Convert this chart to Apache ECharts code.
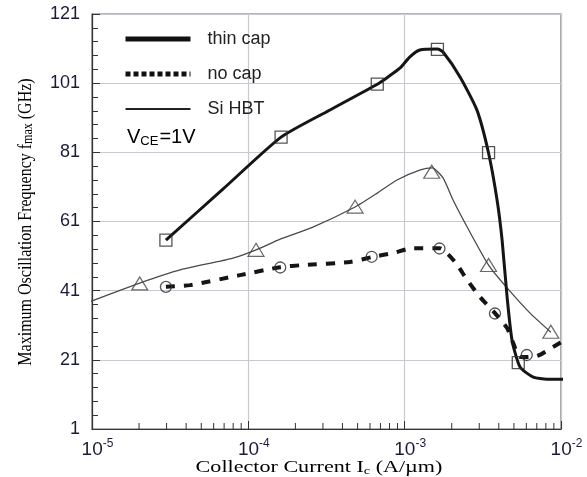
<!DOCTYPE html>
<html lang="en">
<head>
    <meta charset="UTF-8">
    <script src="https://cdn.jsdelivr.net/npm/echarts@6/dist/echarts.min.js"></script>
    <style>
        html, body { margin: 0; padding: 0; background: #fff; }
        #graph { width: 587px; height: 477px; }
    </style>
</head>
<body>
    <div id="graph"></div>
    <script>
        // curve points: [collector current (A/um), fmax (GHz)]
        const thinCapLine = [
            [2.97e-5, 55.6], [6.93e-5, 70.5], [1.62e-4, 85.4], [3.28e-4, 93.1],
            [6.68e-4, 100.7], [7.83e-4, 102.8],
            [9.35e-4, 105.4], [1.08e-3, 108.6], [1.25e-3, 110.6],
            [1.62e-3, 110.9], [1.76e-3, 110.0], [2.26e-3, 102.8], [2.90e-3, 93.2],
            [3.44e-3, 80.8], [3.90e-3, 67.2], [4.20e-3, 55.6], [4.52e-3, 39.2],
            [4.86e-3, 26.7], [5.47e-3, 18.9], [6.64e-3, 16.0], [8.15e-3, 15.4],
            [1.11e-2, 15.4]
        ];
        const noCapLine = [
            [2.97e-5, 42.1], [4.24e-5, 42.6], [8.85e-5, 45.5], [1.60e-4, 47.8],
            [2.24e-4, 48.4], [4.48e-4, 49.3], [6.15e-4, 50.7], [8.43e-4, 51.9],
            [1.13e-3, 53.3], [1.67e-3, 53.3], [2.10e-3, 49.3], [2.51e-3, 44.1],
            [3.03e-3, 39.2], [3.78e-3, 34.5], [4.52e-3, 30.2], [4.94e-3, 25.9],
            [5.47e-3, 21.8], [7.03e-3, 22.1], [8.89e-3, 24.7], [1.11e-2, 27.3]
        ];
        const siHbtLine = [
            [9.15e-6, 37.4], [2.02e-5, 43.2], [3.66e-5, 47.0], [7.98e-5, 50.4],
            [1.12e-4, 52.8], [1.60e-4, 55.9], [2.59e-4, 59.4], [4.82e-4, 65.2],
            [6.68e-4, 69.2], [8.93e-4, 73.0], [1.26e-3, 75.9], [1.50e-3, 76.5],
            [1.76e-3, 73.6], [2.04e-3, 67.2], [2.51e-3, 59.4], [3.44e-3, 48.4],
            [4.52e-3, 41.8], [6.34e-3, 34.5], [8.61e-3, 29.0]
        ];

        // measured points (markers)
        const thinCapPts = [[2.97e-5, 55.6], [1.62e-4, 85.4], [6.68e-4, 100.7], [1.62e-3, 110.8], [3.44e-3, 80.9], [5.33e-3, 20.2]];
        const noCapPts = [[2.97e-5, 42.1], [1.60e-4, 47.7], [6.15e-4, 50.8], [1.67e-3, 53.2], [3.78e-3, 34.4], [6.04e-3, 22.4]];
        const siHbtPts = [[2.02e-5, 43.1], [1.12e-4, 52.8], [4.82e-4, 65.3], [1.49e-3, 75.4], [3.44e-3, 48.4], [8.61e-3, 29.1]];

        const xMinorTicks = [
            2e-5, 3e-5, 4e-5, 5e-5, 6e-5, 7e-5, 8e-5, 9e-5,
            2e-4, 3e-4, 4e-4, 5e-4, 6e-4, 7e-4, 8e-4, 9e-4,
            2e-3, 3e-3, 4e-3, 5e-3, 6e-3, 7e-3, 8e-3, 9e-3
        ];

        const serif = '"Liberation Serif", "DejaVu Serif", serif';
        const sans = '"Liberation Sans", Arial, sans-serif';
        const ink = '#1c1c3a';

        const myChart = echarts.init(document.getElementById('graph'));

        const option = {
            animation: false,
            backgroundColor: '#fff',
            grid: {
                left: 92, right: 26, top: 14, bottom: 48,
                show: true, borderColor: '#6a6a6a', borderWidth: 1.2
            },
            legend: {
                left: 118, top: 25, orient: 'vertical',
                itemWidth: 65, itemHeight: 14, itemGap: 17,
                textStyle: { fontFamily: sans, fontSize: 18, color: '#222', padding: [0, 0, 0, 12] },
                data: [
                    { name: 'thin cap', itemStyle: { opacity: 0 }, lineStyle: { width: 5, color: '#111' } },
                    { name: 'no cap', itemStyle: { opacity: 0 }, lineStyle: { width: 5, color: '#111', type: [5, 3] } },
                    { name: 'Si HBT', itemStyle: { opacity: 0 }, lineStyle: { width: 2, color: '#222' } }
                ]
            },
            xAxis: {
                type: 'log', logBase: 10, min: 1e-5, max: 1e-2,
                axisLine: { lineStyle: { color: '#333', width: 1.2 } },
                axisTick: { inside: true, length: 8, lineStyle: { color: '#333' } },
                splitLine: { show: true, lineStyle: { color: '#c9c9d2', width: 1.2 } },
                axisLabel: {
                    margin: 9,
                    padding: [0, 0, 0, 11],
                    formatter: v => '{b|10}{s|' + Math.round(Math.log10(v)) + '}',
                    rich: {
                        b: { fontFamily: sans, fontSize: 19, color: ink },
                        s: { fontFamily: sans, fontSize: 12, color: ink, padding: [0, 0, 11, 0] }
                    }
                }
            },
            yAxis: {
                type: 'value', min: 1, max: 121, interval: 20,
                axisLine: { show: true, lineStyle: { color: '#333', width: 1.2 } },
                axisTick: { show: true, inside: true, length: 8, lineStyle: { color: '#333' } },
                minorTick: { show: true, splitNumber: 5, length: 6, lineStyle: { color: '#333' } },
                splitLine: { show: true, lineStyle: { color: '#c9c9d2', width: 1.2 } },
                axisLabel: { margin: 12, fontFamily: sans, fontSize: 18, color: ink }
            },
            graphic: [
                {
                    type: 'text', x: 26, y: 222, rotation: Math.PI / 2, scaleY: 1.15,
                    style: {
                        text: '{n|Maximum Oscillation Frequency f}{s|max}{n| (GHz)}',
                        align: 'center', verticalAlign: 'middle',
                        rich: {
                            n: { fontFamily: serif, fontSize: 16, color: ink },
                            s: { fontFamily: serif, fontSize: 12, color: ink, padding: [4, 0, 0, 0] }
                        }
                    }
                },
                {
                    type: 'text', x: 319, y: 468, scaleX: 1.3,
                    style: {
                        text: '{n|Collector Current I}{s|c}{n| (A/\u00b5m)}',
                        align: 'center', verticalAlign: 'middle',
                        rich: {
                            n: { fontFamily: serif, fontSize: 17, color: ink },
                            s: { fontFamily: serif, fontSize: 11, color: ink, padding: [6, 0, 0, 0] }
                        }
                    }
                },
                {
                    type: 'text', x: 127, y: 137,
                    style: {
                        text: '{v|V}{s|CE}{v|=1V}',
                        verticalAlign: 'middle',
                        rich: {
                            v: { fontFamily: sans, fontSize: 20, color: '#222' },
                            s: { fontFamily: sans, fontSize: 13, color: '#222', padding: [9, 1, 0, 0] }
                        }
                    }
                }
            ],
            series: [
                {
                    name: 'thin cap', type: 'line', data: thinCapLine, symbol: 'none',
                    smooth: 0.2, clip: false,
                    lineStyle: { color: '#151515', width: 3 }, z: 3
                },
                {
                    name: 'no cap', type: 'line', data: noCapLine, symbol: 'none',
                    smooth: 0.2, clip: false,
                    lineStyle: { color: '#151515', width: 4, type: [9, 9] }, z: 2
                },
                {
                    name: 'Si HBT', type: 'line', data: siHbtLine, symbol: 'none',
                    smooth: 0.2, clip: false,
                    lineStyle: { color: '#4a4a4a', width: 1.3 }, z: 2
                },
                {
                    name: 'thin cap marks', type: 'scatter', data: thinCapPts,
                    symbol: 'rect', symbolSize: 12,
                    itemStyle: { color: 'rgba(0,0,0,0)', borderColor: '#2a2a2a', borderWidth: 1.3 }, z: 4
                },
                {
                    name: 'no cap marks', type: 'scatter', data: noCapPts,
                    symbol: 'circle', symbolSize: 11,
                    itemStyle: { color: 'rgba(0,0,0,0)', borderColor: '#2a2a2a', borderWidth: 1.3 }, z: 4
                },
                {
                    name: 'Si HBT marks', type: 'scatter', data: siHbtPts,
                    symbol: 'triangle', symbolSize: [16, 13],
                    itemStyle: { color: 'rgba(0,0,0,0)', borderColor: '#444', borderWidth: 1.2 }, z: 4
                },
                {
                    // log minor ticks along the bottom axis
                    name: 'minor ticks', type: 'custom', data: xMinorTicks.map(v => [v, 1]),
                    silent: true, z: 5,
                    renderItem: (params, api) => {
                        const p = api.coord([api.value(0), api.value(1)]);
                        return {
                            type: 'line',
                            shape: { x1: p[0], y1: p[1], x2: p[0], y2: p[1] - 6 },
                            style: { stroke: '#333', lineWidth: 1 }
                        };
                    }
                }
            ]
        };

        myChart.setOption(option);
    </script>
</body>
</html>
